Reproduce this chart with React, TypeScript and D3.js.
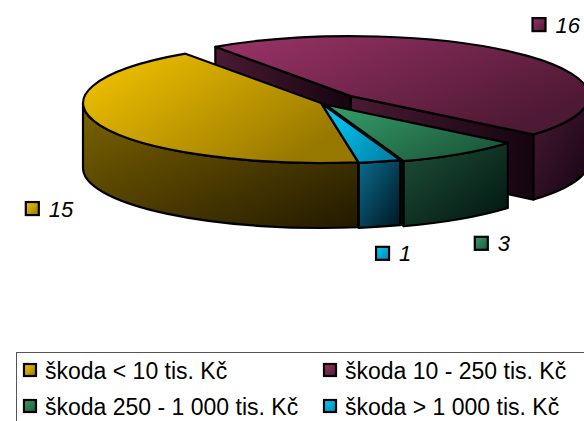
import React, { useEffect, useRef } from 'react';
import * as d3 from 'd3';

// Chart data
const categories = ['škoda < 10 tis. Kč', 'škoda 10 - 250 tis. Kč', 'škoda 250 - 1 000 tis. Kč', 'škoda > 1 000 tis. Kč'];
const values = [15, 16, 3, 1];
const explode = [0, 0.17, 0.03, 0.01];

// Face colours per slice: top light/dark, side light/dark
const topLight = ['#F7C600', '#9C3468', '#36A06A', '#00D2FF'];
const topDark = ['#977800', '#4E1934', '#1C5A3C', '#0086AE'];
const sideLight = ['#7C6400', '#4A1A34', '#1F5038', '#0B6C8E'];
const sideDark = ['#221900', '#150410', '#011410', '#001620'];

const W = 584;
const H = 421;

const App = () => {
    const svgRef = useRef<SVGSVGElement>(null);

    useEffect(() => {
        const svg = d3.select(svgRef.current);
        svg.selectAll('*').remove();

        const font = '"Liberation Sans", Arial, sans-serif';
        const cx = 321, cy = 103;
        const rx = 238, ry = 60, depth = 65;
        const start = (171 * Math.PI) / 180;

        const arcs = d3.pie<number>().sort(null)
            .startAngle(start)
            .endAngle(start + 2 * Math.PI)(values);

        // Gradients
        const defs = svg.append('defs');
        const grad = (id: string, c1: string, c2: string, x2: number, y2: number) => {
            const g = defs.append('linearGradient').attr('id', id)
                .attr('x1', 0).attr('y1', 0).attr('x2', x2).attr('y2', y2);
            g.append('stop').attr('offset', '0%').attr('stop-color', c1);
            g.append('stop').attr('offset', '100%').attr('stop-color', c2);
        };
        values.forEach((_, i) => {
            grad(`top${i}`, topLight[i], topDark[i], 1, 0.6);
            grad(`side${i}`, sideLight[i], sideDark[i], 1, 1);
            grad(`face${i}`, sideLight[i], sideDark[i], 1, 0);
            grad(`key${i}`, topLight[i], topDark[i], 1, 1);
        });

        // Geometry for each slice
        const slices = arcs.map((a, i) => {
            const mid = (a.startAngle + a.endAngle) / 2;
            const c = {
                x: cx + explode[i] * rx * Math.sin(mid),
                y: cy - explode[i] * ry * Math.cos(mid)
            };
            return { i, a0: a.startAngle, a1: a.endAngle, mid, c };
        });
        const pt = (c: { x: number; y: number }, a: number, dz = 0) =>
            [c.x + rx * Math.sin(a), c.y - ry * Math.cos(a) + dz];

        const g = svg.append('g')
            .attr('stroke', '#000')
            .attr('stroke-width', 2.2)
            .attr('stroke-linejoin', 'round');

        // Radial cut faces
        const faces: { i: number; d: string; z: number }[] = [];
        slices.forEach(s => {
            [[s.a0, s.a0 - Math.PI / 2], [s.a1, s.a1 + Math.PI / 2]].forEach(([a, n]) => {
                if (Math.cos(n) >= 0) return;
                const p = pt(s.c, a);
                const d = `M${s.c.x},${s.c.y}L${p[0]},${p[1]}L${p[0]},${p[1] + depth}L${s.c.x},${s.c.y + depth}Z`;
                faces.push({ i: s.i, d, z: (s.c.y + p[1]) / 2 });
            });
        });
        faces.sort((a, b) => a.z - b.z).forEach(f => {
            g.append('path').attr('d', f.d).attr('fill', `url(#face${f.i})`);
        });

        // Outer walls (front half only)
        const walls: { i: number; d: string; z: number }[] = [];
        slices.forEach(s => {
            for (let k = 0; k < 2; k++) {
                const lo = Math.max(s.a0, Math.PI / 2 + 2 * Math.PI * k);
                const hi = Math.min(s.a1, (3 * Math.PI) / 2 + 2 * Math.PI * k);
                if (hi <= lo) continue;
                const p0 = pt(s.c, lo), p1 = pt(s.c, hi);
                const d = `M${p0[0]},${p0[1]}A${rx},${ry} 0 0 1 ${p1[0]},${p1[1]}` +
                    `L${p1[0]},${p1[1] + depth}A${rx},${ry} 0 0 0 ${p0[0]},${p0[1] + depth}Z`;
                walls.push({ i: s.i, d, z: pt(s.c, (lo + hi) / 2)[1] });
            }
        });
        walls.sort((a, b) => a.z - b.z).forEach(w => {
            g.append('path').attr('d', w.d).attr('fill', `url(#side${w.i})`);
        });

        // Top faces
        slices.slice().sort((a, b) => pt(a.c, a.mid)[1] - pt(b.c, b.mid)[1]).forEach(s => {
            const p0 = pt(s.c, s.a0), p1 = pt(s.c, s.a1);
            const large = s.a1 - s.a0 > Math.PI ? 1 : 0;
            g.append('path')
                .attr('d', `M${s.c.x},${s.c.y}L${p0[0]},${p0[1]}A${rx},${ry} 0 ${large} 1 ${p1[0]},${p1[1]}Z`)
                .attr('fill', `url(#top${s.i})`);
        });

        // Data labels
        const labelSize = 22;
        slices.forEach(s => {
            const cosM = Math.cos(s.mid), sinM = Math.sin(s.mid);
            const ly = cosM > 0
                ? s.c.y - (ry + 46) * cosM
                : s.c.y + depth + (ry + 14) * -cosM + 13;
            let lx = s.c.x + (rx + 55) * sinM;
            const lab = svg.append('g');
            const t = lab.append('text')
                .attr('font-family', font)
                .attr('font-size', labelSize)
                .attr('font-style', 'italic')
                .attr('fill', '#000')
                .text(values[s.i]);
            const tw = (t.node() as SVGTextElement).getComputedTextLength();
            const gw = 24 + tw;
            let x0 = lx - gw / 2;
            if (x0 + gw > W - 4) x0 = W - 4 - gw;
            t.attr('x', x0 + 24).attr('y', ly + 8);
            lab.append('rect')
                .attr('x', x0 + 1).attr('y', ly - 6.5)
                .attr('width', 13).attr('height', 13)
                .attr('fill', `url(#key${s.i})`)
                .attr('stroke', '#000').attr('stroke-width', 2.2);
        });

        // Legend
        const legend = svg.append('g');
        legend.append('rect')
            .attr('x', 16.5).attr('y', 352.5)
            .attr('width', 620).attr('height', 120)
            .attr('fill', '#fff')
            .attr('stroke', '#555').attr('stroke-width', 1);
        categories.forEach((name, i) => {
            const col = i % 2, row = Math.floor(i / 2);
            const x = 23 + col * 300;
            const y = 370 + row * 36;
            legend.append('rect')
                .attr('x', x + 1).attr('y', y - 6)
                .attr('width', 12).attr('height', 12)
                .attr('fill', `url(#key${i})`)
                .attr('stroke', '#000').attr('stroke-width', 2.2);
            legend.append('text')
                .attr('x', x + 22).attr('y', y + 8.5)
                .attr('font-family', font)
                .attr('font-size', 23)
                .attr('fill', '#000')
                .text(name);
        });
    }, []);

    return (
        <svg ref={svgRef} width={W} height={H}
            style={{ position: 'absolute', left: 0, top: 0, background: '#fff' }} />
    );
};

export default App;
